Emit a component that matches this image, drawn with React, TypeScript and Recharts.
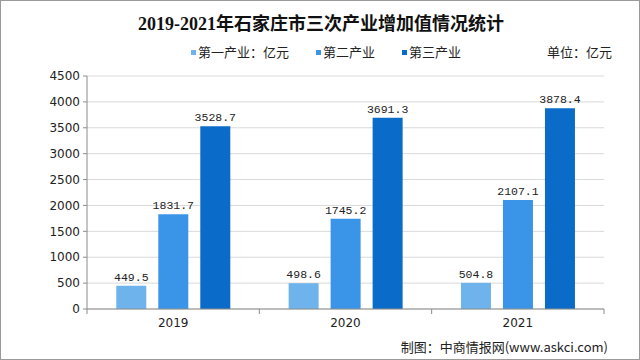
import React from 'react';
import { BarChart, Bar, XAxis, YAxis, CartesianGrid, LabelList } from 'recharts';

const years = ['2019', '2020', '2021'];
const primaryValues = [449.5, 498.6, 504.8];
const secondaryValues = [1831.7, 1745.2, 2107.1];
const tertiaryValues = [3528.7, 3691.3, 3878.4];
const yTicks = [0, 500, 1000, 1500, 2000, 2500, 3000, 3500, 4000, 4500];
const seriesNames = ['第一产业：亿元', '第二产业', '第三产业'];
const seriesColors = ['#6FB3EC', '#3A95E8', '#0B6BC9'];
const titleText = '2019-2021年石家庄市三次产业增加值情况统计';
const unitText = '单位：亿元';
const sourceText = '制图：中商情报网(www.askci.com)';

const data = years.map((y, i) => ({
  year: y,
  s1: primaryValues[i],
  s2: secondaryValues[i],
  s3: tertiaryValues[i],
}));

const keys = ['s1', 's2', 's3'];

const XTick = (props: any) => {
  const { x, y, payload, index } = props;
  const off = payload.offset || 0;
  const lines = [
    <line key="l" x1={x - off} x2={x - off} y1={y - 9} y2={y - 4} stroke="#8c8c8c" />,
  ];
  if (index === years.length - 1) {
    lines.push(<line key="r" x1={x + off} x2={x + off} y1={y - 9} y2={y - 4} stroke="#8c8c8c" />);
  }
  return (
    <g>
      {lines}
      <text x={x} y={y} dy="0.71em" textAnchor="middle" fontSize={12} fill="#222" fontFamily="'DejaVu Sans', Verdana, sans-serif">
        {payload.value}
      </text>
    </g>
  );
};

export default function App() {
  return (
    <div
      style={{
        position: 'absolute',
        left: 0,
        top: 0,
        width: 640,
        height: 360,
        background: '#fff',
        boxSizing: 'border-box',
        border: '1px solid #9a9a9a',
        overflow: 'hidden',
      }}
    >
      <div
        style={{
          position: 'absolute',
          left: 0,
          top: 11,
          width: 640,
          textAlign: 'center',
          fontSize: 18,
          fontWeight: 'bold',
          color: '#111',
          fontFamily: "'Liberation Serif', 'Noto Sans CJK SC', serif",
          lineHeight: '24px',
        }}
      >
        {titleText}
      </div>
      <div
        style={{
          position: 'absolute',
          left: 0,
          top: 42,
          width: 650,
          display: 'flex',
          justifyContent: 'center',
          gap: 27,
          fontSize: 13,
          color: '#222',
          fontFamily: "'Noto Sans CJK SC', sans-serif",
          lineHeight: '18px',
        }}
      >
        {seriesNames.map((n, i) => (
          <div key={n} style={{ display: 'flex', alignItems: 'center' }}>
            <span style={{ display: 'inline-block', width: 5, height: 5, background: seriesColors[i], marginRight: 2 }} />
            <span>{n}</span>
          </div>
        ))}
      </div>
      <div
        style={{
          position: 'absolute',
          left: 546,
          top: 42,
          fontSize: 13,
          color: '#222',
          fontFamily: "'Noto Sans CJK SC', sans-serif",
          lineHeight: '18px',
        }}
      >
        {unitText}
      </div>
      <div
        style={{
          position: 'absolute',
          right: 31,
          top: 337,
          fontSize: 13,
          color: '#222',
          fontFamily: "'Noto Sans CJK SC', sans-serif",
          lineHeight: '18px',
        }}
      >
        {sourceText}
      </div>
      <div style={{ position: 'absolute', left: -1, top: -1 }}>
        <BarChart
          width={640}
          height={360}
          data={data}
          margin={{ top: 76, right: 36, bottom: 21, left: 0 }}
          barCategoryGap="17%"
          barGap={12}
        >
          <CartesianGrid vertical={false} stroke="#d9d9d9" />
          <XAxis
            dataKey="year"
            height={30}
            axisLine={{ stroke: '#8c8c8c' }}
            tickLine={{ stroke: 'none' }}
            tickSize={5}
            tickMargin={4}
            tick={<XTick />}
            interval={0}
          />
          <YAxis
            width={87}
            domain={[0, 4500]}
            ticks={yTicks}
            interval={0}
            axisLine={{ stroke: '#8c8c8c' }}
            tickLine={{ stroke: '#8c8c8c' }}
            tickSize={4}
            tickMargin={3}
            tick={{ fontSize: 12, fill: '#222', fontFamily: "'DejaVu Sans', Verdana, sans-serif" }}
          />
          {keys.map((k, i) => (
            <Bar key={k} dataKey={k} name={seriesNames[i]} fill={seriesColors[i]} isAnimationActive={false}>
              <LabelList
                dataKey={k}
                position="top"
                offset={5}
                fill="#222"
                fontSize={11.5}
                fontFamily="'Liberation Mono', 'DejaVu Sans Mono', monospace"
                formatter={(v: any) => Number(v).toFixed(1)}
              />
            </Bar>
          ))}
        </BarChart>
      </div>
    </div>
  );
}
